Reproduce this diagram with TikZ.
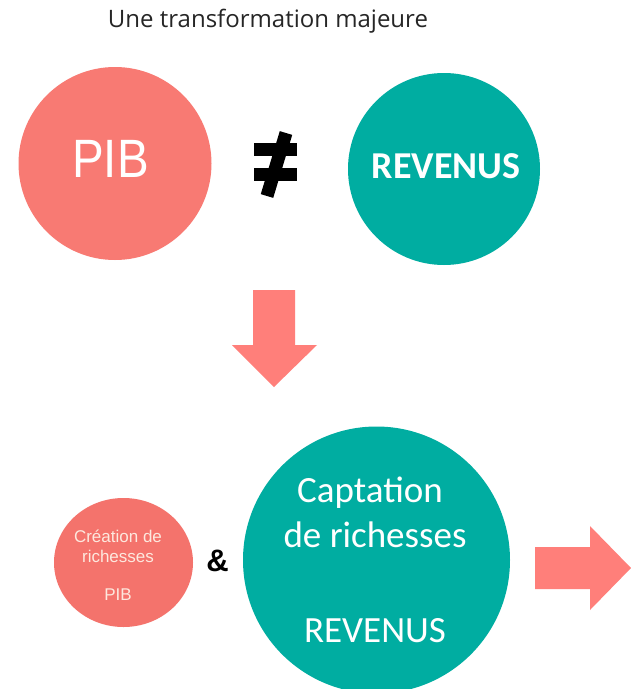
\documentclass[tikz,border=0pt]{standalone}
\usepackage{fontspec}
\setmainfont{Carlito}
\newfontfamily\arialf{Liberation Sans}
\newfontfamily\titlef{Open Sans}
\usetikzlibrary{shapes.geometric}
\definecolor{salmon}{RGB}{248,122,115}
\definecolor{salmonB}{RGB}{244,115,108}
\definecolor{arrowc}{RGB}{255,127,122}
\definecolor{tealc}{RGB}{0,173,161}
\definecolor{cream}{RGB}{253,232,222}
\begin{document}
\begin{tikzpicture}[x=1pt,y=-1pt,
  txt/.style={inner sep=0pt,anchor=base},
  disc/.style={circle,inner sep=0pt,draw=none}]
\useasboundingbox (0,0) rectangle (631,689);
\fill[white] (0,0) rectangle (631,689);
% title
\node[txt,font=\titlef\fontsize{24}{28}\selectfont,text=black!85] (title) at (268,27) {Une transformation majeure};
% top row
\node[disc,fill=salmon,minimum size=193pt] (pib) at (115,163.5) {};
\node[txt,font=\arialf\fontsize{54}{60}\selectfont,text=white] (pibt) at (110.5,177) {\scalebox{0.88}[1]{PIB}};
\node[disc,fill=tealc,minimum size=192pt] (rev) at (444,169) {};
\node[txt,font=\bfseries\fontsize{38}{44}\selectfont,text=white] (revt) at (446,178) {REVENUS};
% not-equal sign
\fill[black] (254,143) rectangle (297,156);
\fill[black] (254,168) rectangle (297,181);
\draw[black,line width=13pt] (286,133) -- (267,196);
% down arrow
\fill[arrowc] (253,290) -- (295,290) -- (295,345) -- (317,345) -- (274,387) -- (232,345) -- (253,345) -- cycle;
% bottom row
\node[ellipse,inner sep=0pt,fill=salmonB,minimum width=139pt,minimum height=129pt] (crea) at (123.5,562.5) {};
\node[txt,font=\arialf\fontsize{17}{20}\selectfont,text=cream] (c1) at (118,542) {Création de};
\node[txt,font=\arialf\fontsize{17}{20}\selectfont,text=cream] (c2) at (118,562) {richesses};
\node[txt,font=\arialf\fontsize{17}{20}\selectfont,text=cream] (c3) at (118,600) {PIB};
\node[txt,font=\arialf\bfseries\fontsize{31}{34}\selectfont,text=black] (amp) at (217.5,571) {\&};
\node[disc,fill=tealc,minimum size=267pt] (capt) at (376.5,560) {};
\node[txt,font=\fontsize{37}{42}\selectfont,text=white] (k1) at (370,502) {Captation};
\node[txt,font=\fontsize{37}{42}\selectfont,text=white] (k2) at (375,547) {de richesses};
\node[txt,font=\fontsize{37}{42}\selectfont,text=white] (k3) at (375,642) {REVENUS};
% right arrow
\fill[arrowc] (535,547) -- (590,547) -- (590,526) -- (631,568) -- (590,610) -- (590,589) -- (535,589) -- cycle;
\end{tikzpicture}
\end{document}
